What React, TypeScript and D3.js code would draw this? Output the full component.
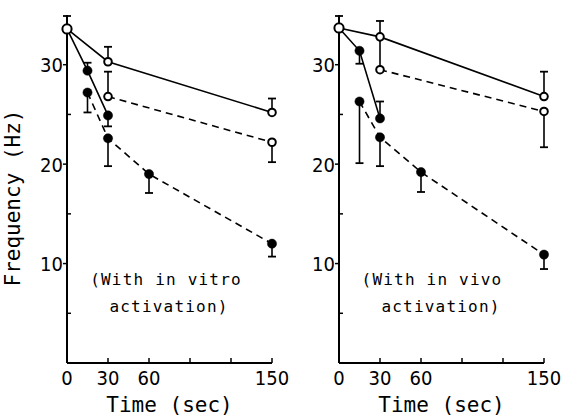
import React from 'react';
import * as d3 from 'd3';

// frequency (Hz) vs time (sec); err > 0 means the bar points up, < 0 down
type Pt = { t: number; f: number; err: number };

const xTicks = [30, 60, 90, 120, 150];
const xTickLabels = [0, 30, 60, 150];
const yMajor = [10, 20, 30];
const yMinor = [5, 15, 25];

const vitroOpenSolid: Pt[] = [
    { t: 0, f: 33.6, err: 1.3 },
    { t: 30, f: 30.3, err: 1.5 },
    { t: 150, f: 25.2, err: 1.4 },
];
const vitroOpenDashed: Pt[] = [
    { t: 30, f: 26.8, err: 2.5 },
    { t: 150, f: 22.2, err: -2.0 },
];
const vitroFilledSolid: Pt[] = [
    { t: 0, f: 33.6, err: 0 },
    { t: 15, f: 29.4, err: 0.8 },
    { t: 30, f: 24.9, err: -1.1 },
];
const vitroFilledDashed: Pt[] = [
    { t: 15, f: 27.2, err: -2.0 },
    { t: 30, f: 22.6, err: -2.8 },
    { t: 60, f: 19.0, err: -1.9 },
    { t: 150, f: 12.0, err: -1.3 },
];

const vivoOpenSolid: Pt[] = [
    { t: 0, f: 33.7, err: 1.2 },
    { t: 30, f: 32.8, err: 1.6 },
    { t: 150, f: 26.8, err: 2.5 },
];
const vivoOpenDashed: Pt[] = [
    { t: 30, f: 29.5, err: 3.2 },
    { t: 150, f: 25.3, err: -3.6 },
];
const vivoFilledSolid: Pt[] = [
    { t: 0, f: 33.7, err: 0 },
    { t: 15, f: 31.4, err: -1.3 },
    { t: 30, f: 24.6, err: 1.7 },
];
const vivoFilledDashed: Pt[] = [
    { t: 15, f: 26.3, err: -6.2 },
    { t: 30, f: 22.7, err: -2.9 },
    { t: 60, f: 19.2, err: -2.0 },
    { t: 150, f: 10.9, err: -1.45 },
];

const panels = [
    {
        left: 67, right: 272,
        note: ['(With in vitro', 'activation)'], noteDx: [-3.5, -0.5],
        series: [
            { data: vitroOpenSolid, open: true, dashed: false },
            { data: vitroOpenDashed, open: true, dashed: true },
            { data: vitroFilledSolid, open: false, dashed: false },
            { data: vitroFilledDashed, open: false, dashed: true },
        ],
    },
    {
        left: 339, right: 544,
        note: ['(With in vivo', 'activation)'], noteDx: [-9.5, -0.5],
        series: [
            { data: vivoOpenSolid, open: true, dashed: false },
            { data: vivoOpenDashed, open: true, dashed: true },
            { data: vivoFilledSolid, open: false, dashed: false },
            { data: vivoFilledDashed, open: false, dashed: true },
        ],
    },
];

const mono = '"DejaVu Sans Mono", monospace';
const narrow = '"DejaVu Sans Condensed", "DejaVu Sans", sans-serif';

const Panel = ({ p }: { p: typeof panels[number] }) => {
    const x = d3.scaleLinear().domain([0, 150]).range([p.left, p.right]);
    const y = d3.scaleLinear().domain([0, 35]).range([363, 15]);
    const line = d3.line<Pt>().x(d => x(d.t)).y(d => y(d.f));
    const mid = (p.left + p.right) / 2;
    return (
        <g>
            {/* axes */}
            <line x1={x(0)} x2={x(0)} y1={y(0)} y2={y(35)} stroke="#000" strokeWidth={2} />
            <line x1={x(0)} x2={x(150)} y1={y(0)} y2={y(0)} stroke="#000" strokeWidth={2} />
            {yMajor.map(v => (
                <g key={'ym' + v}>
                    <line x1={x(0) - 4} x2={x(0)} y1={y(v)} y2={y(v)} stroke="#000" strokeWidth={1.5} />
                    <text x={x(0) - 4} y={y(v) + 7.5} textAnchor="end" fontFamily={narrow} fontSize={20}>{v}</text>
                </g>
            ))}
            {yMinor.map(v => (
                <line key={'yn' + v} x1={x(0)} x2={x(0) + 4} y1={y(v)} y2={y(v)} stroke="#000" strokeWidth={1.5} />
            ))}
            {xTicks.map(v => (
                <line key={'xt' + v} x1={x(v)} x2={x(v)} y1={y(0)} y2={y(0) - 5} stroke="#000" strokeWidth={1.5} />
            ))}
            {xTickLabels.map(v => (
                <text key={'xl' + v} x={x(v)} y={385} textAnchor="middle" fontFamily={narrow} fontSize={20}>{v}</text>
            ))}
            <text x={mid} y={412} textAnchor="middle" fontFamily={mono} fontSize={21}>Time (sec)</text>
            {p.note.map((s, i) => (
                <text key={s} x={mid + p.noteDx[i]} y={285 + i * 27} textAnchor="middle"
                      fontFamily={mono} fontSize={16} letterSpacing={1.2}>{s}</text>
            ))}

            {/* lines */}
            {p.series.map((s, i) => (
                <path key={'l' + i} d={line(s.data) || ''} fill="none" stroke="#000"
                      strokeWidth={1.6} strokeDasharray={s.dashed ? '7,5' : undefined} />
            ))}
            {/* error bars */}
            {p.series.map((s, i) => s.data.filter(d => d.err !== 0).map(d => {
                const cx = x(d.t);
                const ye = y(d.f + d.err);
                return (
                    <g key={'e' + i + '-' + d.t}>
                        <line x1={cx} x2={cx} y1={y(d.f)} y2={ye} stroke="#000" strokeWidth={1.6} />
                        <line x1={cx - 4} x2={cx + 4} y1={ye} y2={ye} stroke="#000" strokeWidth={1.8} />
                    </g>
                );
            }))}
            {/* markers */}
            {p.series.map((s, i) => s.data.map(d => (
                <circle key={'c' + i + '-' + d.t} cx={x(d.t)} cy={y(d.f)}
                        r={s.open ? 3.8 : 4.6}
                        fill={s.open || d.t === 0 ? '#fff' : '#000'}
                        stroke="#000" strokeWidth={s.open || d.t === 0 ? 2 : 0.5} />
            )))}
        </g>
    );
};

export default function App() {
    return (
        <svg width={564} height={418} style={{ position: 'absolute', left: 0, top: 0, background: '#fff' }}>
            {panels.map((p, i) => <Panel key={i} p={p} />)}
            <text transform="translate(20,198) rotate(-90)" textAnchor="middle"
                  fontFamily={mono} fontSize={21}>Frequency (Hz)</text>
        </svg>
    );
}
